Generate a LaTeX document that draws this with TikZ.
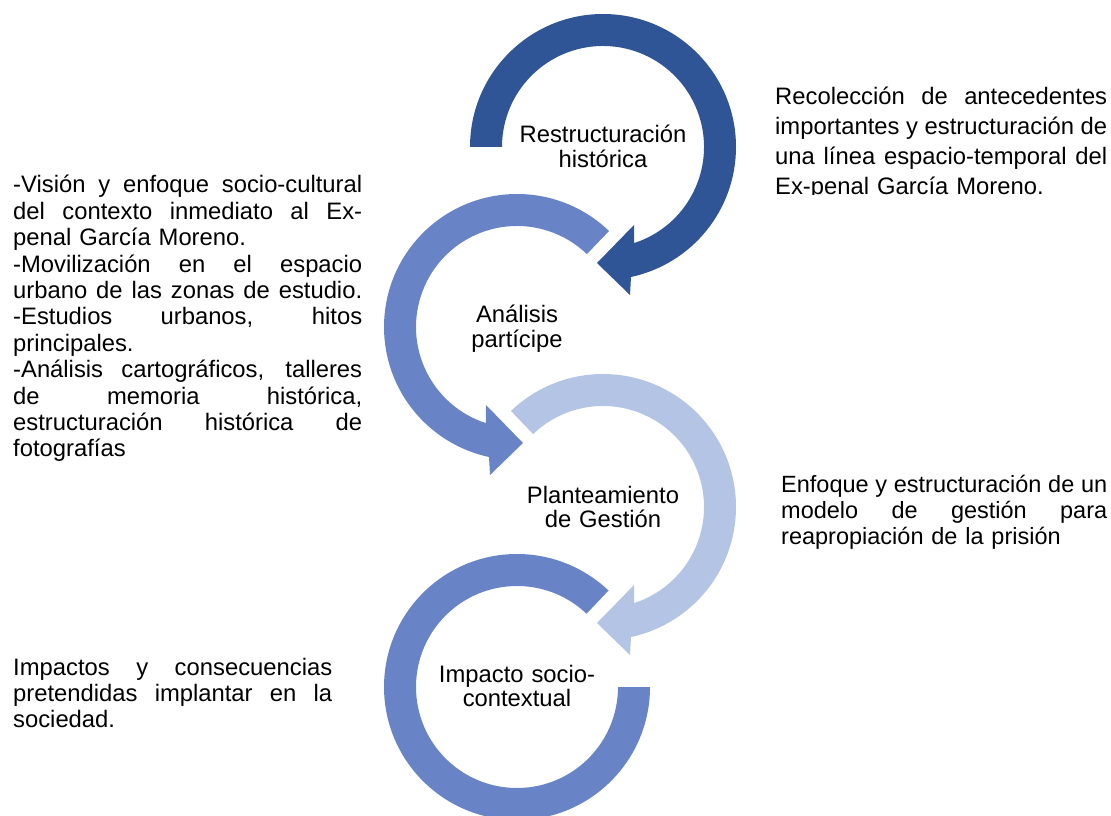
\documentclass[tikz,border=0pt]{standalone}
\usepackage{fontspec}
\setmainfont{Liberation Sans}
\definecolor{cdark}{RGB}{47,85,151}
\definecolor{cmed}{RGB}{104,132,198}
\definecolor{clight}{RGB}{180,196,228}
\newcommand\myjl[2]{\leavevmode\hbox to #1{\spaceskip=0.278em plus 1fil minus 0.08em\relax #2}}
\begin{document}
\begin{tikzpicture}[x=1pt,y=1pt,
  ctext/.style={text width=220pt, align=center, inner sep=0pt, anchor=base,
    font=\fontsize{23.8}{24.5}\selectfont},
  btext/.style={inner sep=0pt, anchor=base west, align=left},
  arcdark/.style={fill=cdark},
  arcmed/.style={fill=cmed},
  arclight/.style={fill=clight}]
\useasboundingbox (0,0) rectangle (1111,815);
\coordinate (c1) at (603,668);
\coordinate (c2) at (517,488);
\coordinate (c3) at (603,308);
\coordinate (c4) at (517,128);

% circular arrows
\begin{scope}[shift={(c1)}]
\fill[arcdark] (180:133) arc[start angle=180, end angle=-77.85, radius=133]
  -- (27,-148) -- (-6,-116) -- (31,-78) -- (-72.1:101)
  arc[start angle=-72.1, end angle=180, radius=101] -- cycle;
\end{scope}
\begin{scope}[shift={(c2)}]
\fill[arcmed] (46.2:133) arc[start angle=46.2, end angle=257.85, radius=133]
  -- (-27,-148) -- (6,-116) -- (-31,-78) -- (252.1:101)
  arc[start angle=252.1, end angle=46.2, radius=101] -- cycle;
\end{scope}
\begin{scope}[shift={(c3)}]
\fill[arclight] (133.8:133) arc[start angle=133.8, end angle=-77.85, radius=133]
  -- (27,-148) -- (-6,-116) -- (31,-78) -- (-72.1:101)
  arc[start angle=-72.1, end angle=133.8, radius=101] -- cycle;
\end{scope}
\begin{scope}[shift={(c4)}]
\fill[arcmed] (0:133) arc[start angle=0, end angle=-313.5, radius=133]
  -- (46.5:101) arc[start angle=46.5, end angle=360, radius=101] -- cycle;
\end{scope}

% circle labels
\node[ctext] (t1) at (603,672) {Restructuración\\histórica};
\node[ctext] (t2) at (517,492) {Análisis\\partícipe};
\node[ctext] (t3) at (603,312) {Planteamiento\\de Gestión};
\node[ctext] (t4) at (517,133) {Impacto socio-\\contextual};

% left description
\node[btext, text width=349pt, font=\fontsize{23.8}{26.4}\selectfont] (left) at (13,622)
 {\myjl{349pt}{-Visión y enfoque socio-cultural}\\
  \myjl{349pt}{del contexto inmediato al Ex-}\\
  penal García Moreno.\\
  \myjl{349pt}{-Movilización en el espacio}\\
  \myjl{349pt}{urbano de las zonas de estudio.}\\
  \myjl{349pt}{-Estudios urbanos, hitos}\\
  principales.\\
  \myjl{349pt}{-Análisis cartográficos, talleres}\\
  \myjl{349pt}{de memoria histórica,}\\
  \myjl{349pt}{estructuración histórica de}\\
  fotografías};

% bottom-left description
\node[btext, text width=319pt, font=\fontsize{23.8}{26}\selectfont] (bleft) at (13,140)
 {\myjl{319pt}{Impactos y consecuencias}\\
  \myjl{319pt}{pretendidas implantar en la}\\
  sociedad.};

% right top description (clipped)
\begin{scope}
\clip (700,620.5) rectangle (1111,815);
\node[btext, text width=332pt, font=\fontsize{23.8}{29.7}\selectfont] (rtop) at (775,710)
 {\myjl{332pt}{Recolección de antecedentes}\\
  \myjl{332pt}{importantes y estructuración de}\\
  \myjl{332pt}{una línea espacio-temporal del}\\
  Ex-penal García Moreno.};
\end{scope}

% right bottom description
\node[btext, text width=326pt, font=\fontsize{23.5}{26}\selectfont] (rbot) at (781,323)
 {\myjl{326pt}{Enfoque y estructuración de un}\\
  \myjl{326pt}{modelo de gestión para}\\
  reapropiación de la prisión};
\end{tikzpicture}
\end{document}
